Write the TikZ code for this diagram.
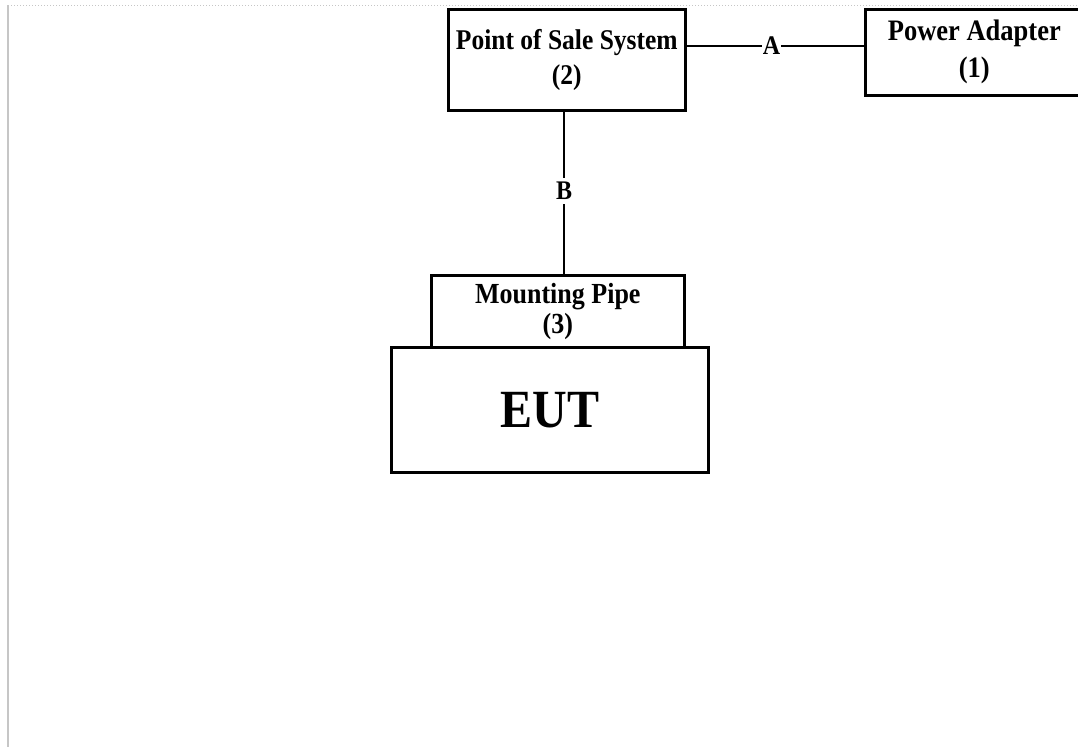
\documentclass[tikz,border=0pt]{standalone}
\usepackage{fontspec}
\setmainfont{Liberation Serif}
\newcommand{\tallt}[1]{\scalebox{1}[1.12]{#1}}
\begin{document}
\begin{tikzpicture}[x=1pt,y=-1pt,
  box/.style={draw=black,line width=2.6pt,inner sep=0pt,align=center,font=\bfseries},
  wire/.style={draw=black,line width=2.6pt},
  lbl/.style={font=\bfseries\fontsize{24}{24}\selectfont,inner sep=1pt,fill=white}]
\useasboundingbox (0,0) rectangle (1078,747);
\clip (0,0) rectangle (1078,747);
\fill[white] (0,0) rectangle (1078,747);
% frame lines
\draw[gray!45,line width=1pt,dotted] (8,5) -- (1078,5);
\draw[gray!45,line width=2pt] (8,5) -- (8,747);
% boxes
\node[box,minimum width=237pt,minimum height=101pt,anchor=north west,
  font=\bfseries\fontsize{25.5}{35}\selectfont] (pos) at (447,8) {\tallt{Point of Sale System}\\\tallt{(2)}};
\node[box,minimum width=218pt,minimum height=86pt,anchor=north west,
  font=\bfseries\fontsize{26.5}{37}\selectfont] (pa) at (864,8) {\raisebox{3pt}{\tallt{Power Adapter}}\\\raisebox{3pt}{\tallt{(1)}}};
\node[box,minimum width=253pt,minimum height=72pt,anchor=north west,
  font=\bfseries\fontsize{26}{30}\selectfont] (mp) at (430,274) {\raisebox{2pt}{\tallt{Mounting Pipe}}\\\raisebox{2pt}{\tallt{(3)}}};
\node[box,minimum width=317pt,minimum height=125pt,anchor=north west,
  font=\bfseries\fontsize{48}{48}\selectfont] (eut) at (390,346) {\tallt{EUT}};
% connectors
\coordinate (aj) at (828,46);
\draw[wire] (pos.east |- 0,46) -- node[lbl,pos=0.60] (la) {\tallt{A}} (aj);
\draw[black,line width=1.6pt] (aj) -- (pa.west |- aj);
\draw[black,line width=2pt] (pos.south -| 564,0) -- node[lbl,pos=0.49,fill=white,inner sep=4pt] (lb) {\tallt{B}} (mp.north -| 564,0);
\end{tikzpicture}
\end{document}
